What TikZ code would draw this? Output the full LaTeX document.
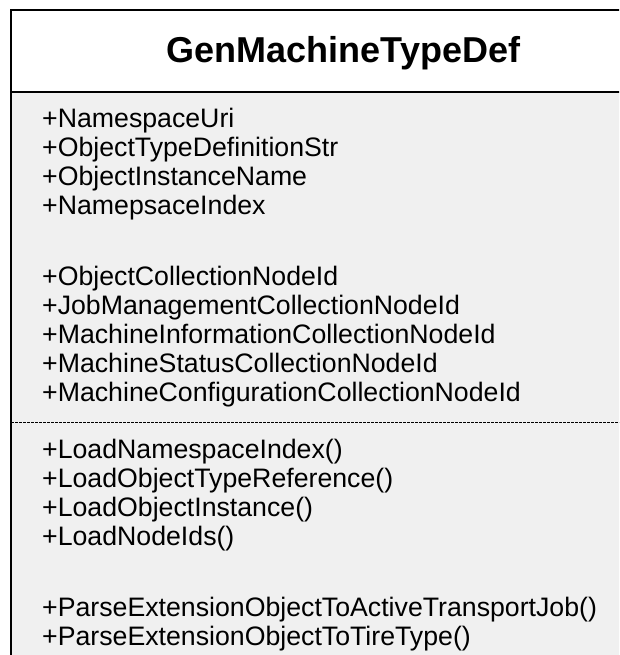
\documentclass[tikz,border=0pt]{standalone}
\usepackage{fontspec}
\setmainfont{Liberation Sans}
\definecolor{bodygray}{HTML}{F0F0F0}
\begin{document}
\begin{tikzpicture}[x=1pt, y=-1pt,
  member/.style={anchor=base west, inner sep=0pt, font=\fontsize{26.7}{29}\selectfont},
  classtitle/.style={anchor=base, inner sep=0pt, font=\fontsize{36}{40}\selectfont\bfseries},
  frame/.style={line width=2pt, draw=black},
  separator/.style={line width=1pt, draw=black, dash pattern=on 2.5pt off 1.5pt}]
  \useasboundingbox (0,0) rectangle (619,655);
  \clip (0,0) rectangle (619,655);
  \fill[white] (0,0) rectangle (619,655);

  % class box: white name compartment, grey member compartment
  \fill[bodygray] (11,92) rectangle (700,700);
  \coordinate (tl) at (11,10);
  \coordinate (tr) at (700,10);
  \coordinate (bl) at (11,700);
  \coordinate (hl) at (11,92);
  \coordinate (hr) at (700,92);
  \coordinate (sl) at (11,422);
  \coordinate (sr) at (700,422);
  \draw[frame] (tr) -- (tl) -- (bl);
  \draw[frame] (hl) -- (hr);
  \draw[separator] (sl) -- (sr);

  % class name
  \node[classtitle] (name) at (343.5,63) {GenMachineTypeDef};

  % attributes
  \node[member] (a1) at (42,127.5) {+NamespaceUri};
  \node[member] (a2) at (42,156.5) {+ObjectTypeDefinitionStr};
  \node[member] (a3) at (42,185.5) {+ObjectInstanceName};
  \node[member] (a4) at (42,214.5) {+NamepsaceIndex};
  \node[member] (a5) at (42,285.5) {+ObjectCollectionNodeId};
  \node[member] (a6) at (42,314.5) {+JobManagementCollectionNodeId};
  \node[member] (a7) at (42,343.5) {+MachineInformationCollectionNodeId};
  \node[member] (a8) at (42,372.5) {+MachineStatusCollectionNodeId};
  \node[member] (a9) at (42,401.5) {+MachineConfigurationCollectionNodeId};

  % operations
  \node[member] (m1) at (42,458.5) {+LoadNamespaceIndex()};
  \node[member] (m2) at (42,487.5) {+LoadObjectTypeReference()};
  \node[member] (m3) at (42,516.5) {+LoadObjectInstance()};
  \node[member] (m4) at (42,545.5) {+LoadNodeIds()};
  \node[member] (m5) at (42,616.5) {+ParseExtensionObjectToActiveTransportJob()};
  \node[member] (m6) at (42,645.5) {+ParseExtensionObjectToTireType()};
\end{tikzpicture}
\end{document}
